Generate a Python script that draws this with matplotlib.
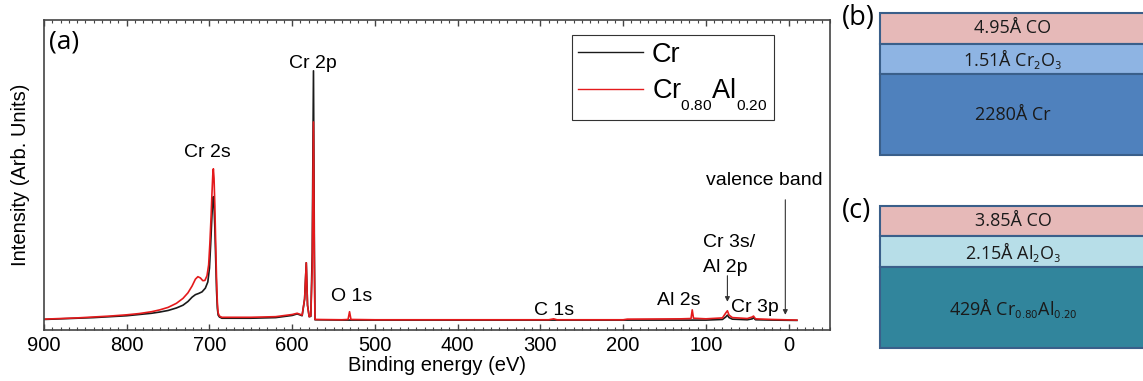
import matplotlib
matplotlib.use("Agg")
import matplotlib.pyplot as plt
from matplotlib import _mathtext
from matplotlib.ticker import MultipleLocator

plt.rcParams["font.family"] = ["Liberation Sans", "DejaVu Sans"]
plt.rcParams["mathtext.fontset"] = "custom"
plt.rcParams["mathtext.rm"] = "Liberation Sans"
plt.rcParams["mathtext.it"] = "Liberation Sans"
plt.rcParams["mathtext.bf"] = "Liberation Sans"


# deeper subscripts for the legend formula (Liberation Sans only)
class LegendFontConstants(_mathtext.FontConstantsBase):
    sub1 = 0.85


_mathtext._font_constant_mapping["Liberation Sans"] = LegendFontConstants
_mathtext.SHRINK_FACTOR = 0.57

# survey spectra, binding energy (eV) vs intensity (arb. units)
cr_energy = [900, 880, 860, 840, 820, 800, 785, 770, 760, 750, 740, 732, 726, 721, 717, 713, 709,
             705, 702, 700, 698.5, 697, 696, 695.3, 694.5, 693.5, 692.5, 691.5, 690.5, 689.5, 688,
             685, 650, 620, 600, 594, 588, 585, 583, 581.5, 579.5, 577.5, 575.8, 574.3, 573.2, 572.5,
             540, 500, 300, 200, 100, 80, 76, 74, 72, 68, 50, 44, 42.5, 40, 20, -10]
cr_intensity = [3.4, 3.6, 3.8, 4.0, 4.3, 4.6, 5.0, 5.4, 5.8, 6.3, 7.1, 8.0, 9.2, 10.6, 11.4, 11.8, 12.3,
                13.5, 15.5, 20.0, 28.0, 37.0, 42.0, 43.0, 40.0, 33.0, 23.0, 13.0, 7.0, 4.8, 4.2,
                3.8, 3.8, 4.0, 4.7, 5.2, 4.6, 10.0, 21.7, 8.0, 4.3, 4.4, 25.0, 83.6, 25.0, 3.3,
                3.2, 3.2, 3.2, 3.2, 3.2, 3.4, 4.2, 4.8, 4.0, 3.5, 3.3, 3.6, 4.0, 3.3, 3.2, 3.1]

cral_energy = [900, 880, 860, 840, 820, 800, 785, 770, 760, 750, 740, 732, 726, 721, 717, 714, 711,
               708, 705.5, 703, 701, 699.5, 698, 697, 696, 695.3, 694.5, 693.5, 692.5, 691.5, 690.5,
               689.5, 688, 685, 650, 620, 600, 594, 588, 585, 583, 581.5, 579.5, 577.5, 575.8, 574.3,
               573.2, 572.5, 540, 532.5, 530.7, 529, 500, 290, 284, 280, 200, 195, 130, 118, 116.5,
               115, 100, 80, 76, 74, 72, 68, 50, 44, 42.5, 40, 20, -10]
cral_intensity = [3.5, 3.7, 3.9, 4.2, 4.5, 4.9, 5.3, 5.9, 6.5, 7.3, 8.6, 10.2, 12.0, 14.2, 16.4, 17.2, 16.8,
                  15.9, 16.0, 17.5, 21.0, 28.0, 37.0, 44.0, 50.0, 52.0, 49.0, 40.0, 28.0, 17.0, 9.0,
                  5.5, 4.5, 4.1, 4.1, 4.3, 5.0, 5.4, 4.8, 10.0, 21.7, 8.0, 4.3, 4.6, 20.0, 67.1,
                  20.0, 3.4, 3.3, 3.4, 5.9, 3.4, 3.3, 3.3, 3.6, 3.3, 3.3, 3.5, 3.6, 3.7, 6.5,
                  3.8, 3.6, 3.9, 5.5, 6.2, 4.8, 4.0, 3.7, 4.2, 4.5, 3.6, 3.4, 3.2]

# peak labels: text, energy, intensity of the text baseline
peak_labels = ["Cr 2s", "Cr 2p", "O 1s", "C 1s", "Al 2s"]
peak_label_energy = [703, 575, 528, 284, 133]
peak_label_height = [55.9, 84.5, 9.4, 4.8, 8.1]

# layer stacks from the fits (top layer first)
stack_b_labels = ["4.95Å CO", "1.51Å Cr$_2$O$_3$", "2280Å Cr"]
stack_c_labels = ["3.85Å CO", "2.15Å Al$_2$O$_3$", "429Å Cr$_{0.80}$Al$_{0.20}$"]
stack_b_colors = ["#e6b9b8", "#8eb4e3", "#4f81bd"]
stack_c_colors = ["#e6b9b8", "#b7dee8", "#31859c"]

W, H = 1143, 381
fig = plt.figure(figsize=(W / 100, H / 100), dpi=100)

ax = fig.add_axes([44 / W, (H - 330) / H, (830 - 44) / W, (330 - 20) / H])
ax.plot(cr_energy, cr_intensity, color="#1a1a1a", lw=1.2, label="Cr")
ax.plot(cral_energy, cral_intensity, color="#e41a1c", lw=1.2, label="Cr$_{0.80}$Al$_{0.20}$")
ax.set_xlim(900, -50)
ax.set_ylim(0, 100)
ax.set_yticks([])
ax.xaxis.set_major_locator(MultipleLocator(100))
ax.xaxis.set_minor_locator(MultipleLocator(10))
ax.tick_params(axis="x", which="both", direction="in", top=True, bottom=True,
               labelsize=14.5, pad=4, color="#444444")
ax.tick_params(axis="x", which="major", length=4, width=1)
ax.tick_params(axis="x", which="minor", length=2, width=0.8)
for s in ax.spines.values():
    s.set_color("#444444")
    s.set_linewidth(1.2)
ax.set_xlabel("Binding energy (eV)", fontsize=14.5, labelpad=1)
ax.set_ylabel("Intensity (Arb. Units)", fontsize=14.5, labelpad=10)

for txt, e, h in zip(peak_labels, peak_label_energy, peak_label_height):
    ax.text(e, h, txt, fontsize=14, ha="center", va="baseline")

ax.text(104, 18.7 + 8.1, "Cr 3s/", fontsize=14, ha="left", va="baseline")
ax.text(104, 18.7, "Al 2p", fontsize=14, ha="left", va="baseline")
ax.annotate("", xy=(74, 8.2), xytext=(74, 18.4),
            arrowprops=dict(arrowstyle="-|>", color="#333333", lw=0.8, mutation_scale=7))
ax.text(70, 5.9, "Cr 3p", fontsize=14, ha="left", va="baseline")
ax.text(29, 46.8, "valence band", fontsize=14, ha="center", va="baseline")
ax.annotate("", xy=(4, 4.0), xytext=(4, 42.9),
            arrowprops=dict(arrowstyle="-|>", color="#333333", lw=0.8, mutation_scale=7))
ax.text(0.006, 0.97, "(a)", transform=ax.transAxes, fontsize=19, family="Open Sans", va="top")

leg = ax.legend(loc="upper left", bbox_to_anchor=((571.7 - 44) / 786, (330 - 35) / 310),
                borderaxespad=0, fontsize=19.5, handlelength=2.4, handletextpad=0.3,
                labelspacing=0.32, borderpad=0.25, fancybox=False, framealpha=1)
leg.get_frame().set_edgecolor("#333333")
leg.get_frame().set_linewidth(0.8)
for line in leg.get_lines():
    line.set_linewidth(1.0)


def draw_stack(top_px, bottom_px, labels, colors, tag):
    sax = fig.add_axes([880 / W, (H - bottom_px) / H, (1146 - 880) / W, (bottom_px - top_px) / H])
    sax.set_xlim(0, 1)
    sax.set_ylim(0, 1)
    sax.axis("off")
    heights = [0.214, 0.213, 0.573]
    base = 1.0
    for lab, col, hgt in zip(labels, colors, heights):
        base -= hgt
        sax.bar(0.5, hgt, bottom=base, width=1.0, color=col, edgecolor="#3a5f8a",
                linewidth=1.5, clip_on=False)
        sax.text(0.5, base + hgt / 2, lab, ha="center", va="center", fontsize=13,
                 family="Open Sans", math_fontfamily="dejavusans", color="#1a1a1a")
    fig.text(842 / W, (H - top_px + 9) / H, tag, fontsize=19.5, family="Open Sans", va="top")


draw_stack(13.3, 155.3, stack_b_labels, stack_b_colors, "(b)")
draw_stack(206, 348.3, stack_c_labels, stack_c_colors, "(c)")

fig.savefig("out.png", dpi=100)
